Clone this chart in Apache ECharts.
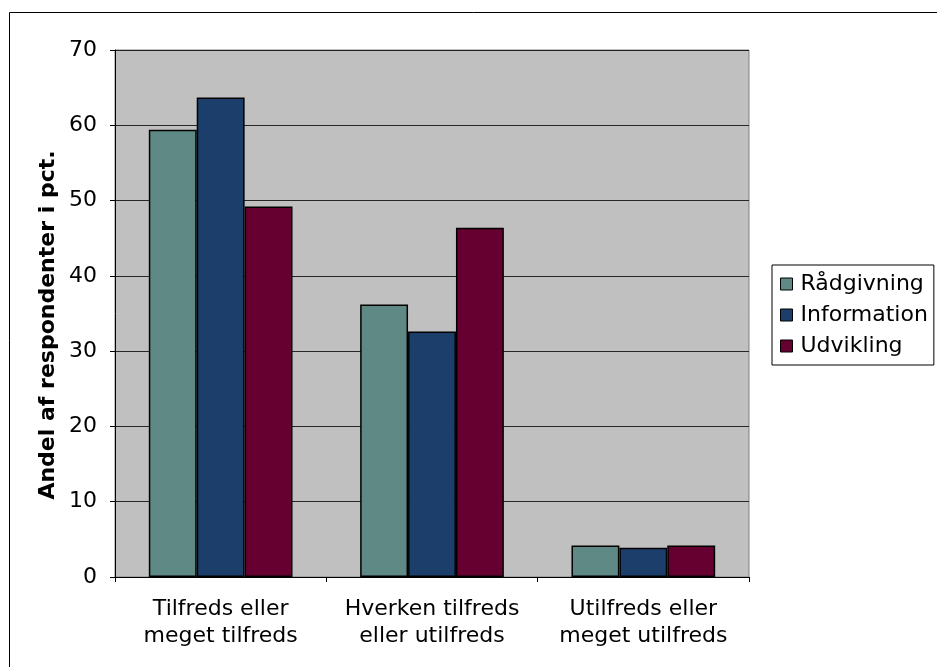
<!DOCTYPE html>
<html><head><meta charset="utf-8">
<script src="https://cdn.jsdelivr.net/npm/echarts@6/dist/echarts.min.js"></script>
<style>html,body{margin:0;padding:0;background:#fff}#c{width:937px;height:667px}</style>
</head><body><div id="c"></div>
<script>
const categories = ['Tilfreds eller\nmeget tilfreds', 'Hverken tilfreds\neller utilfreds', 'Utilfreds eller\nmeget utilfreds'];
const seriesNames = ['Rådgivning', 'Information', 'Udvikling'];
const raadgivning = [59.4, 36.2, 4.2];
const information = [63.7, 32.6, 3.9];
const udvikling = [49.2, 46.4, 4.2];
const yTicks = [0, 10, 20, 30, 40, 50, 60, 70];
const yTitle = 'Andel af respondenter i pct.';
const colors = ['#5E8985', '#1B3F6A', '#660030'];
const values = [raadgivning, information, udvikling];
const font = 'DejaVu Sans, Verdana, sans-serif';
const chart = echarts.init(document.getElementById('c'), null, {renderer: 'canvas'});
chart.setOption({
  animation: false,
  backgroundColor: '#fff',
  textStyle: {fontFamily: font},
  graphic: [
    {type: 'rect', shape: {x: 9.5, y: 12.5, width: 1200, height: 1200}, style: {fill: null, stroke: '#000', lineWidth: 1}, z: 0},
    {type: 'text', x: 48, y: 325, rotation: Math.PI / 2, style: {text: yTitle, font: 'bold 22px ' + font, fill: '#000', align: 'center', verticalAlign: 'middle'}}
  ],
  grid: {left: 115, top: 50, right: 188, bottom: 90, show: true, backgroundColor: '#C0C0C0', borderColor: '#808080', borderWidth: 1},
  legend: {
    orient: 'vertical', left: 772, top: 265, padding: [7, 6, 7, 8],
    backgroundColor: '#fff', borderColor: '#000', borderWidth: 1, borderRadius: 0,
    itemWidth: 12, itemHeight: 12, itemGap: 7,
    icon: 'rect',
    itemStyle: {borderColor: '#000', borderWidth: 1},
    textStyle: {fontSize: 22, lineHeight: 24, color: '#000', fontFamily: font, padding: [0, 0, 0, 3]},
    data: seriesNames
  },
  xAxis: {
    type: 'category', data: categories,
    axisLine: {lineStyle: {color: '#000', width: 1}},
    axisTick: {show: true, length: 5, alignWithLabel: false, lineStyle: {color: '#000'}},
    axisLabel: {fontSize: 22, color: '#000', lineHeight: 27, margin: 19, fontFamily: font, interval: 0}
  },
  yAxis: {
    type: 'value', min: 0, max: 70, interval: 10,
    axisLine: {show: true, lineStyle: {color: '#000', width: 1}},
    axisTick: {show: true, length: 5, lineStyle: {color: '#000'}},
    axisLabel: {fontSize: 22, color: '#000', margin: 18, fontFamily: font,
      formatter: v => yTicks.includes(v) ? String(v) : ''},
    splitLine: {show: true, lineStyle: {color: '#000', width: 1, opacity: 0.8}}
  },
  series: seriesNames.map((n, i) => ({
    name: n, type: 'bar', data: values[i],
    barGap: '0%', barCategoryGap: '32%',
    itemStyle: {color: colors[i], borderColor: '#000', borderWidth: 1.5}
  }))
});
</script></body></html>
